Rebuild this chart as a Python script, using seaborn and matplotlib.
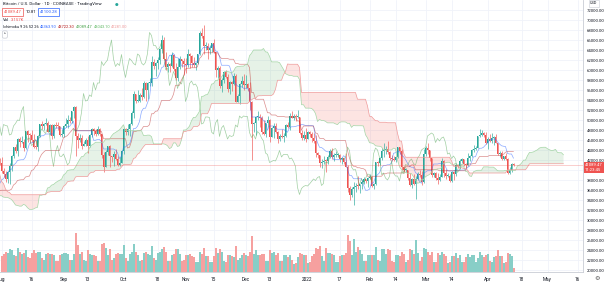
import matplotlib
matplotlib.use("Agg")
import matplotlib.pyplot as plt
import matplotlib.dates as mdates
import numpy as np
import pandas as pd
import seaborn as sns

# BTC/USD daily candles (Coinbase), thousand USD, 13 May 2021 .. 14 Apr 2022
first_day = "2021-05-13"
first_open = 49.5
high = [
    51.3, 51.5, 50.6, 49.8, 46.6, 45.8, 43.6, 42.5, 42.2, 38.8, 38.3, 39.9, 39.8, 40.8, 40.4, 38.9, 37.9, 36.4, 37.5,
    37.9, 38.2, 39.5, 39.3, 37.9, 36.5, 36.8, 34.1, 37.5, 38.4, 37.7, 37.4, 39.4, 41.0, 41.3, 40.5, 39.6, 38.2, 36.4, 36.1, 35.7, 33.3, 34.8, 35.3, 35.5, 32.7, 34.7, 35.3, 36.6, 36.1,
    35.0, 33.9, 34.9, 35.9, 35.3, 35.0, 35.0, 33.9, 34.1, 34.3, 34.6, 34.6, 33.3, 33.1, 33.2, 32.3, 31.9, 32.4, 31.9, 31.0, 32.8, 32.6, 33.6, 34.5, 35.4, 40.6, 39.5, 40.9, 40.6, 42.3, 42.4,
    42.6, 40.4, 39.8, 39.9, 41.4, 43.0, 44.7, 45.3, 46.5, 46.7, 46.8, 46.2, 47.9, 48.1, 47.4, 48.0, 47.2, 46.0, 47.1, 49.3, 49.8, 49.5, 50.5, 49.8, 49.3, 49.3, 49.2, 49.6, 49.6, 48.9, 48.2,
    49.0, 50.4, 51.0, 50.6, 51.9, 52.9, 52.9, 47.4, 47.3, 47.0, 45.9, 46.5, 46.9, 47.3, 48.5, 48.5, 48.2, 48.8, 48.4, 47.3, 43.6, 44.0, 44.9, 45.0, 42.9, 43.9, 44.3, 42.8, 42.6, 44.1,
    48.5, 48.4, 49.2, 49.5, 51.9, 55.8, 55.3, 56.1, 55.4, 56.5, 57.8, 57.7, 57.6, 58.5, 62.9, 62.3, 61.7, 62.7, 64.5, 67.0, 66.6, 63.7, 61.7, 61.5, 63.7, 63.3, 61.5, 62.4, 62.9, 62.3, 62.4,
    62.4, 64.3, 63.5, 63.1, 62.6, 61.6, 63.3, 67.8, 68.5, 69.0, 65.6, 65.4, 65.0, 65.5, 66.3, 63.6, 60.8, 60.9, 58.4, 59.9, 60.0, 59.3, 57.8, 57.8, 59.4, 59.2, 55.3, 57.4, 58.9, 59.2,
    59.0, 57.4, 57.6, 53.9, 49.7, 50.9, 51.9, 51.2, 50.8, 50.1, 49.5, 50.8, 50.2, 48.6, 49.5, 49.4, 47.9, 47.3, 48.3, 47.5, 49.3, 49.6, 51.4, 51.8, 51.2, 51.3, 52.1, 50.7, 48.1, 47.9, 48.5,
    47.9, 47.9, 47.6, 47.5, 47.0, 43.7, 43.1, 42.3, 42.8, 42.2, 43.1, 44.3, 44.5, 43.4, 43.8, 43.5, 43.2, 42.7, 42.4, 43.5, 41.1, 36.8, 36.6, 37.6, 37.5, 38.9, 37.2, 38.0, 38.7, 38.3, 38.7,
    39.3, 38.9, 37.4, 41.7, 41.9, 42.6, 44.5, 45.5, 44.8, 45.8, 43.9, 43.0, 42.8, 42.9, 44.7, 44.6, 44.2, 40.9, 40.4, 40.1, 39.5, 38.4, 39.2, 38.9, 39.7, 40.0, 39.8, 44.2,
    44.9, 45.4, 44.1, 42.5, 39.6, 39.6, 39.4, 39.3, 42.4, 42.0, 40.2, 39.4, 39.3, 39.9, 39.9, 41.5, 41.3, 42.3, 42.4, 42.3, 41.5, 43.4, 43.0, 44.2, 45.1, 44.8, 46.9, 48.2, 48.1, 47.7, 47.6,
    46.7, 47.2, 47.4, 46.9, 47.2, 45.5, 43.9, 43.9, 42.8, 43.4, 42.4, 40.7, 41.5, 41.4,
]
low = [
    46.9, 48.8, 46.6, 43.9, 42.1, 42.3, 30.0, 35.0, 33.5, 35.3, 31.1, 34.4, 36.5, 37.8, 37.2, 34.7, 33.7, 33.4, 34.2,
    35.7, 35.9, 37.2, 35.6, 34.8, 35.3, 33.4, 31.0, 32.4, 35.8, 35.9, 34.6, 34.8, 38.8, 39.5, 38.1, 37.4, 35.2, 34.8, 33.3, 31.3, 28.8, 31.7, 32.3, 31.3, 30.2, 32.0, 33.9, 34.3, 34.0,
    32.7, 32.7, 33.4, 34.4, 33.2, 33.5, 33.8, 32.1, 32.3, 33.0, 33.3, 32.7, 32.3, 31.6, 31.2, 31.1, 31.2, 31.2, 30.4, 29.3, 29.5, 31.7, 32.0, 33.4, 33.9, 35.3, 36.4, 38.8, 39.2, 38.3, 41.0,
    39.4, 38.7, 37.6, 37.5, 37.3, 39.9, 42.5, 43.4, 42.8, 44.7, 45.4, 43.8, 44.2, 45.6, 45.5, 45.7, 44.4, 44.2, 43.9, 46.6, 48.3, 48.1, 49.0, 47.6, 47.1, 46.3, 46.4, 48.4, 48.0, 46.8, 46.7,
    46.6, 48.6, 48.4, 49.4, 49.5, 50.5, 42.8, 44.5, 45.6, 44.2, 44.8, 44.8, 43.4, 44.7, 46.7, 47.0, 46.9, 47.1, 46.9, 42.5, 39.6, 40.6, 43.1, 40.7, 41.7, 40.8, 42.1, 40.9, 40.8, 41.4,
    43.3, 47.1, 47.1, 46.9, 49.1, 50.4, 53.4, 53.7, 53.7, 54.1, 54.5, 53.9, 54.3, 56.8, 56.9, 60.2, 58.9, 60.2, 61.3, 63.5, 62.0, 60.0, 59.7, 59.6, 60.7, 59.9, 58.0, 57.9, 60.2, 60.7, 59.0,
    59.5, 60.7, 60.4, 60.7, 60.7, 60.1, 61.3, 63.1, 66.4, 63.3, 64.1, 62.3, 63.3, 63.6, 63.4, 58.6, 58.4, 56.5, 55.6, 57.4, 58.5, 55.7, 55.3, 55.9, 57.0, 53.6, 53.6, 53.3, 56.7, 56.0,
    56.5, 55.9, 52.0, 42.0, 47.7, 47.1, 50.1, 48.6, 47.3, 47.0, 46.7, 48.6, 45.7, 46.6, 46.5, 47.5, 45.5, 45.9, 46.4, 45.6, 46.6, 48.4, 48.1, 50.4, 50.1, 49.9, 50.4, 47.3, 46.1, 46.0, 45.7,
    46.2, 46.7, 45.7, 45.5, 42.7, 42.5, 40.6, 40.5, 41.2, 39.7, 41.3, 42.5, 42.3, 41.9, 42.6, 42.6, 41.6, 41.3, 41.2, 40.7, 35.7, 34.0, 34.6, 33.0, 35.7, 36.2, 35.5, 36.2, 37.3, 37.4, 36.7,
    38.2, 36.6, 36.3, 37.0, 40.9, 41.1, 42.0, 42.7, 43.2, 43.2, 42.0, 41.8, 41.9, 41.6, 42.4, 43.3, 40.1, 39.5, 39.7, 38.0, 36.8, 36.4, 37.1, 34.3, 38.0, 38.6, 37.0, 37.5,
    42.8, 43.3, 41.9, 38.6, 38.6, 38.1, 37.2, 37.9, 38.7, 38.6, 38.3, 38.7, 37.6, 37.6, 38.1, 38.9, 40.5, 40.2, 41.5, 40.9, 40.5, 40.9, 41.8, 42.6, 43.6, 44.1, 44.4, 46.6, 46.9, 46.6, 45.2,
    44.2, 45.6, 45.5, 45.1, 45.4, 43.1, 42.7, 42.1, 42.1, 42.0, 39.2, 39.3, 39.6, 40.9,
]
close = [
    49.7, 49.9, 46.8, 46.4, 43.6, 42.9, 37.0, 40.7, 37.3, 37.5, 34.7, 38.8, 38.4, 39.3, 38.4, 35.7, 34.6, 35.7, 37.3,
    36.7, 37.6, 39.2, 36.9, 35.5, 35.8, 33.6, 33.4, 37.4, 36.7, 37.3, 35.6, 39.0, 40.5, 40.2, 38.3, 38.1, 35.8, 35.5, 35.6, 31.7, 32.5, 33.7, 34.7, 31.6, 32.2, 34.7, 34.5, 35.9, 35.0,
    33.5, 33.8, 34.7, 35.3, 33.7, 34.2, 33.9, 32.9, 33.8, 33.5, 34.3, 33.1, 32.7, 32.8, 31.9, 31.4, 31.5, 31.8, 30.8, 29.8, 32.1, 32.3, 33.6, 34.3, 35.4, 37.3, 39.5, 40.0, 40.0, 42.2, 41.5,
    39.9, 39.2, 38.2, 39.7, 40.9, 42.8, 44.6, 43.8, 46.3, 45.6, 45.6, 44.4, 47.8, 47.1, 47.0, 46.0, 44.7, 44.6, 46.8, 49.3, 48.9, 49.3, 49.5, 47.7, 49.0, 46.9, 49.1, 48.9, 48.8, 47.0, 47.2,
    48.8, 49.3, 50.0, 49.9, 51.8, 52.7, 46.9, 46.1, 46.4, 44.9, 45.2, 46.1, 44.9, 47.1, 48.2, 47.8, 47.3, 48.3, 47.3, 43.0, 40.7, 43.6, 44.9, 42.8, 42.7, 43.2, 42.2, 41.0, 41.5, 43.8,
    48.2, 47.7, 48.2, 49.2, 51.5, 55.3, 53.8, 53.9, 55.0, 54.7, 57.5, 56.0, 57.4, 57.4, 61.7, 60.9, 61.5, 62.0, 64.3, 66.0, 62.2, 60.7, 61.3, 60.9, 63.1, 60.3, 58.5, 60.6, 62.3, 61.9, 61.3,
    61.0, 63.2, 62.9, 61.4, 61.0, 61.5, 63.3, 67.5, 66.9, 64.9, 64.9, 64.1, 64.4, 65.5, 63.6, 60.1, 60.4, 56.9, 58.1, 59.7, 58.7, 56.3, 57.6, 57.2, 58.9, 53.7, 54.8, 57.3, 57.8, 57.0,
    57.2, 56.5, 53.6, 49.2, 49.4, 50.6, 50.6, 50.5, 47.6, 47.2, 49.4, 50.1, 46.7, 48.4, 48.9, 47.6, 46.2, 46.9, 46.7, 46.9, 49.0, 48.6, 50.8, 50.4, 50.8, 50.7, 50.7, 47.5, 46.5, 47.1, 46.2,
    47.7, 47.3, 46.4, 45.8, 43.4, 43.1, 41.5, 41.7, 41.9, 41.8, 42.7, 43.9, 42.6, 43.1, 43.1, 43.1, 42.2, 42.4, 41.7, 40.7, 36.5, 35.1, 36.3, 36.7, 36.9, 36.8, 37.2, 37.7, 38.2, 37.9, 38.5,
    38.7, 36.9, 37.3, 41.6, 41.4, 42.4, 43.8, 44.1, 44.3, 43.6, 42.4, 42.2, 42.1, 42.6, 44.6, 43.9, 40.6, 40.0, 40.1, 38.4, 37.0, 38.3, 37.3, 38.3, 39.2, 39.1, 37.7, 43.2,
    44.4, 44.0, 42.5, 39.1, 39.4, 38.4, 38.0, 38.7, 41.9, 39.4, 38.8, 38.8, 37.8, 39.7, 39.3, 41.1, 40.9, 41.8, 42.2, 41.3, 41.0, 42.4, 42.9, 44.0, 44.3, 44.5, 46.8, 47.1, 47.4, 47.1, 45.5,
    46.3, 45.8, 46.4, 46.6, 45.5, 43.2, 43.4, 42.3, 42.8, 42.2, 39.5, 40.1, 41.15, 41.09,
]
# volume, thousand BTC, 1 Aug 2021 .. 14 Apr 2022
volume_start = "2021-08-01"
volume = [
    14, 16, 18, 17, 20, 19, 15, 14, 21, 18, 16, 17, 19, 13, 12, 17, 19, 17, 18, 18, 12, 11, 16, 17, 16, 16, 15, 10, 10, 15, 16,
    17, 17, 16, 11, 11, 16, 34, 24, 16, 18, 11, 10, 19, 16, 15, 15, 14, 10, 10, 25, 26, 21, 15, 20, 11, 12, 16, 17, 16, 16,
    24, 12, 10, 16, 18, 25, 18, 15, 10, 11, 17, 18, 16, 15, 23, 12, 11, 17, 18, 20, 22, 18, 10, 10, 15, 16, 20, 20, 16, 10, 11,
    15, 15, 16, 14, 13, 9, 9, 18, 16, 21, 14, 14, 9, 9, 14, 21, 17, 20, 18, 10, 9, 15, 15, 14, 13, 23, 11, 12, 15, 17,
    15, 14, 18, 32, 16, 19, 15, 15, 16, 16, 10, 10, 19, 17, 18, 15, 17, 10, 10, 15, 15, 13, 15, 11, 7, 8, 13, 17, 16, 15, 15,
    8, 9, 14, 16, 21, 20, 23, 14, 10, 21, 17, 17, 16, 15, 9, 9, 14, 15, 15, 17, 33, 27, 15, 29, 18, 22, 19, 16, 10, 10, 15,
    15, 15, 15, 22, 11, 10, 20, 20, 16, 20, 19, 10, 9, 15, 15, 14, 18, 16, 9, 11, 20, 19, 16, 28, 17, 10, 13, 21,
    20, 18, 15, 18, 9, 9, 17, 15, 18, 16, 14, 8, 9, 14, 14, 17, 12, 15, 9, 9, 13, 16, 13, 15, 15, 9, 12, 18, 15, 13, 15,
    16, 10, 9, 13, 14, 19, 14, 14, 8, 9, 17, 16, 14, 3.157,
]

price_ticks = list(range(20000, 74000, 2000))
time_ticks = ["2021-08-01", "2021-08-16", "2021-09-01", "2021-09-13", "2021-10-01", "2021-10-18",
              "2021-11-01", "2021-11-15", "2021-12-01", "2021-12-13", "2022-01-01", "2022-01-17",
              "2022-02-01", "2022-02-14", "2022-03-01", "2022-03-14", "2022-04-01", "2022-04-18",
              "2022-05-01", "2022-05-16"]
time_labels = ["Aug", "16", "Sep", "13", "Oct", "18", "Nov", "15", "Dec", "13", "2022", "17",
               "Feb", "14", "Mar", "14", "Apr", "18", "May", "16"]

title = "Bitcoin / U.S. Dollar · 1D · COINBASE · TradingView"
bid, spread, ask = "41089.47", "10.81", "41100.28"
last_price = 41089.47
countdown = "11:23:45"
vol_text = "3.157K"
ichi_label = "Ichimoku 9 26 52 26"
ichi_values = ["42363.90", "43722.30", "41089.47", "43043.10", "41281.00"]

UP, DOWN = "#26a69a", "#ef5350"
VOL_UP, VOL_DOWN = "#88cec7", "#f6a09f"
C_CONV, C_BASE, C_LAG, C_LA, C_LB = "#2962ff", "#b71c1c", "#43a047", "#a5d6a7", "#ef9a9a"

# ---- data frames / indicator
dates = pd.date_range(first_day, periods=len(close), freq="D")
df = pd.DataFrame({"high": high, "low": low, "close": close}, index=dates) * 1000
df["open"] = df["close"].shift(1).fillna(first_open * 1000)
x = mdates.date2num(dates)


def donchian(n):
    return (df["high"].rolling(n).max() + df["low"].rolling(n).min()) / 2


conv = donchian(9)
base = donchian(26)
lead_a = (conv + base) / 2
lead_b = donchian(52)
shift = 25

vdates = pd.date_range(volume_start, periods=len(volume), freq="D")
vx = mdates.date2num(vdates)
vdf = df.loc[vdates]

# ---- figure
sns.set_theme(style="white")
plt.rcParams["font.family"] = ["Roboto", "DejaVu Sans"]

W, H = 604, 284
fig = plt.figure(figsize=(W / 100, H / 100), dpi=100)
ax = fig.add_axes([0, 12 / H, 583 / W, 272 / H])

x0 = mdates.date2num(pd.Timestamp("2021-08-01")) - 0.75
ax.set_xlim(x0, x0 + 583 / 2.0)
ax.set_ylim(19600, 74000)

# volume overlay at the bottom
axv = ax.twinx()
vcol = np.where((vdf["close"] >= vdf["open"]).values, VOL_UP, VOL_DOWN)
axv.bar(vx, volume, width=1.0, color=vcol, lw=0, antialiased=False)
axv.set_ylim(0, 36 / 0.15)
axv.set_yticks([])
axv.grid(False)
for s in axv.spines.values():
    s.set_visible(False)

# cloud
la = lead_a.dropna()
lb = lead_b.reindex(la.index)
m = lb.notna()
xl = x[len(x) - len(la):][m.values] + shift
a_v, b_v = la[m].values, lb[m].values
ax.fill_between(xl, a_v, b_v, where=a_v >= b_v, interpolate=True, color="#43a047", alpha=0.13, lw=0, zorder=1)
ax.fill_between(xl, a_v, b_v, where=a_v < b_v, interpolate=True, color="#f44336", alpha=0.14, lw=0, zorder=1)

# candles
up = (df["close"] >= df["open"]).values
ccol = np.where(up, UP, DOWN)
ax.vlines(x, df["low"], df["high"], colors=ccol, lw=0.45, zorder=3)
body = np.maximum((df["close"] - df["open"]).abs().values, 120)
ax.bar(x, body, bottom=np.minimum(df["open"], df["close"]).values, width=0.8, color=ccol, lw=0, zorder=3)

# ichimoku lines
lw = 0.5
sns.lineplot(x=x, y=conv.values, color=C_CONV, lw=lw, ax=ax, zorder=4, alpha=0.55)
sns.lineplot(x=x, y=base.values, color=C_BASE, lw=lw, ax=ax, zorder=4, alpha=0.5)
sns.lineplot(x=x - shift, y=df["close"].values, color=C_LAG, lw=lw, ax=ax, zorder=4, alpha=0.5)
sns.lineplot(x=x + shift, y=lead_a.values, color=C_LA, lw=lw, ax=ax, zorder=4)
sns.lineplot(x=x + shift, y=lead_b.values, color=C_LB, lw=lw, ax=ax, zorder=4)

ax.axhline(last_price, color=DOWN, lw=0.4, alpha=0.5, zorder=5)

# axes cosmetics
ax.yaxis.tick_right()
ax.set_yticks(price_ticks)
# the 40000 label sits under the last-price tag
ax.set_yticklabels(["" if p == 40000 else f"{p:.2f}" for p in price_ticks])
ax.set_xticks(mdates.date2num(pd.to_datetime(time_ticks)))
ax.set_xticklabels(time_labels)
ax.tick_params(axis="y", length=0, pad=2.5, labelsize=3.1, labelcolor="#131722")
ax.tick_params(axis="x", length=0, pad=3.5, labelsize=3.4, labelcolor="#131722")
ax.grid(True, color="#f0f3fa", lw=0.6)
ax.set_axisbelow(True)
ax.set_xlabel("")
ax.set_ylabel("")
for k in ("top", "left"):
    ax.spines[k].set_visible(False)
for k in ("right", "bottom"):
    ax.spines[k].set_color("#c9ccd4")
    ax.spines[k].set_linewidth(0.6)


def ftext(px, py, s, **kw):
    return fig.text(px / W, 1 - py / H, s, va="center", **kw)


# legend block (top-left)
ftext(3, 4.5, title, fontsize=3.2, color="#131722")
ftext(115, 4.5, "●", fontsize=3.0, color=UP, family="DejaVu Sans")
ftext(4, 12, bid, fontsize=3.1, color=DOWN,
      bbox=dict(boxstyle="square,pad=0.4", fc="white", ec=DOWN, lw=0.5))
ftext(26, 12, spread, fontsize=3.1, color="#131722")
ftext(40, 12, ask, fontsize=3.1, color=C_CONV,
      bbox=dict(boxstyle="square,pad=0.4", fc="white", ec=C_CONV, lw=0.5))
ftext(3, 20, "Vol", fontsize=3.1, color="#131722")
ftext(11, 20, vol_text, fontsize=3.1, color=DOWN)
ftext(3, 27.5, ichi_label, fontsize=2.9, color="#131722")
for px_, s, c in zip([40, 58, 76, 93.5, 110.5], ichi_values, [C_CONV, C_BASE, C_LAG, "#66bb6a", C_LB]):
    ftext(px_, 27.5, s, fontsize=2.9, color=c)
ftext(4, 34.5, "^", fontsize=3.0, color="#131722",
      bbox=dict(boxstyle="round,pad=0.4", fc="white", ec="#c9ccd4", lw=0.5))

# last price tag on the price scale
ftext(585, 167.5, f"{last_price:.2f}\n{countdown}", fontsize=3.0, color="white", linespacing=1.1,
      bbox=dict(boxstyle="square,pad=0.35", fc=DOWN, ec=DOWN, lw=0))
ftext(590, 3.5, "USD", fontsize=2.8, color="#131722",
      bbox=dict(boxstyle="square,pad=0.3", fc="white", ec="#c9ccd4", lw=0.4))
ftext(597, 279, "⚙", fontsize=4.5, color="#555555", ha="center", family="DejaVu Sans")

fig.savefig("out.png", dpi=100)
